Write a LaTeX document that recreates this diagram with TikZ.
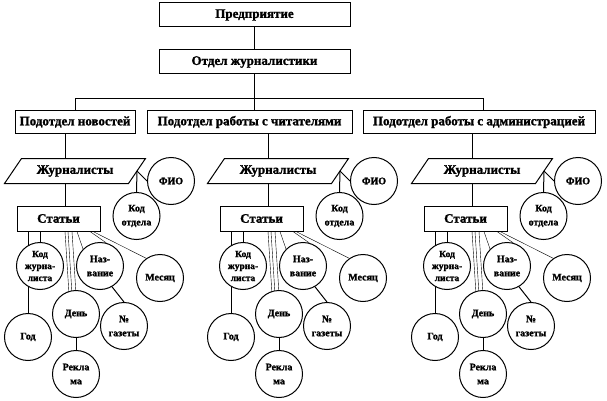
\documentclass[tikz,border=0pt]{standalone}
\usepackage{fontspec}
\setmainfont{Liberation Serif}[BoldFeatures={FakeBold=1.5}]
\usetikzlibrary{backgrounds}
\begin{document}
\begin{tikzpicture}[x=1pt,y=-1pt, line width=1pt,
  box/.style={draw, fill=white, inner sep=0pt, minimum height=24pt, font=\fontsize{13}{15}\selectfont\bfseries},
  parbox/.style={inner sep=0pt, minimum width=123pt, minimum height=24pt, font=\fontsize{13}{15}\selectfont\bfseries},
  circ/.style={circle, draw, fill=white, inner sep=0pt, minimum size=47pt, align=center, font=\fontsize{10}{14}\selectfont\bfseries},
  circs/.style={circ, font=\fontsize{9.5}{12}\selectfont\bfseries}]
\useasboundingbox (0,0) rectangle (607,401);
% top levels
\node[box, minimum width=191pt] (pr) at (254.5,15) {Предприятие};
\node[box, minimum width=191pt] (otd) at (254.5,62) {Отдел журналистики};
\node[box, minimum width=120pt, minimum height=22pt] (sub1) at (75,122) {Подотдел новостей};
\node[box, minimum width=205pt, minimum height=22pt] (sub2) at (249.5,122) {Подотдел работы с читателями};
\node[box, minimum width=232pt, minimum height=22pt] (sub3) at (479,122) {Подотдел работы с администрацией};
\coordinate (bus) at (254.5,98.5);
\draw (pr.south) -- (otd.north);
\draw (otd.south) -- (otd.south |- sub2.north);
\draw (sub1.north) |- (bus) -| ([xshift=4pt]sub3.north);
% groups
\foreach \g/\xo in {1/65, 2/268, 3/472}{
  \coordinate (x\g) at (\xo,0);
  \node[parbox] (par\g) at (\xo+10,171) {Журналисты};
  \draw ([xshift=-8.5pt]par\g.south west) -- ([xshift=-8.5pt]par\g.south east)
     -- ([xshift=8.5pt]par\g.north east) -- ([xshift=8.5pt]par\g.north west) -- cycle;
  \node[box, minimum width=83pt, minimum height=25pt] (st\g) at (\xo-6.5,218.5) {Статьи};
  \node[circ] (fio\g) at (\xo+106,181) {ФИО};
  \node[circ] (ko\g) at (\xo+71.5,216) {Код\\отдела};
  \node[circs] (kj\g) at (\xo-25,266) {Код\\журна-\\листа};
  \node[circ] (nam\g) at (\xo+35,266) {Наз-\\вание};
  \node[circ] (mes\g) at (\xo+95,278) {Месяц};
  \node[circ] (den\g) at (\xo+11,314) {День};
  \node[circ] (gaz\g) at (\xo+59,326) {№\\газеты};
  \node[circ] (god\g) at (\xo-37,337) {Год};
  \node[circ] (rek\g) at (\xo+11,374) {Рекла\\ма};
  \draw (sub\g.south -| x\g) -- (par\g.north -| x\g);
  \draw (par\g.south -| x\g) -- (st\g.north -| x\g);
  \draw (par\g.east) -- (ko\g.north);
  \draw (par\g.east) -- (fio\g.west);
  \draw (nam\g.-60) -- (gaz\g.north);
  \draw (den\g.south) -- (rek\g.north);
  \begin{scope}[on background layer]
    \draw (st\g.south -| god\g) -- (god\g);
    \draw (st\g.south -| kj\g) -- (kj\g);
    \draw ([xshift=6.5pt]st\g.south) -- ([xshift=-7pt,yshift=-4pt]den\g.north);
    \draw ([xshift=9.5pt]st\g.south) -- ([xshift=-4pt,yshift=-4pt]den\g.north);
    \draw ([xshift=13.5pt]st\g.south) -- ([yshift=-4pt]den\g.north);
    \draw ([xshift=18.5pt]st\g.south) -- (nam\g.135);
    \draw ([xshift=31.5pt]st\g.south) -- (nam\g.75);
    \draw ([xshift=34.5pt]st\g.south) -- (mes\g.125);
  \end{scope}
}
\end{tikzpicture}
\end{document}
